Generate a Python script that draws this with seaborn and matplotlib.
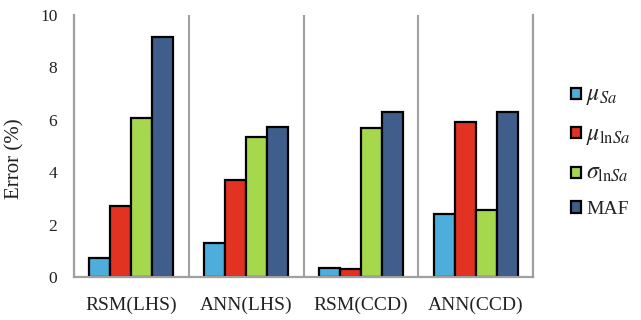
import matplotlib
matplotlib.use("Agg")
import matplotlib.pyplot as plt
import seaborn as sns
import pandas as pd
from matplotlib.patches import Patch

categories = ["RSM(LHS)", "ANN(LHS)", "RSM(CCD)", "ANN(CCD)"]
series_names = [r"$\mu_{Sa}$", r"$\mu_{\mathrm{ln}Sa}$", r"$\sigma_{\mathrm{ln}Sa}$", "MAF"]
mu_sa = [0.73, 1.28, 0.34, 2.40]
mu_lnsa = [2.70, 3.68, 0.31, 5.92]
sigma_lnsa = [6.08, 5.32, 5.67, 2.57]
maf = [9.15, 5.73, 6.30, 6.30]
colors = ["#4DAEDB", "#E13222", "#A6D84E", "#3F5E8C"]
y_ticks = [0, 2, 4, 6, 8, 10]

rows = []
for name, vals in zip(series_names, [mu_sa, mu_lnsa, sigma_lnsa, maf]):
    for c, v in zip(categories, vals):
        rows.append({"cat": c, "series": name, "val": v})
df = pd.DataFrame(rows)

sns.set_style("white")
plt.rcParams["font.family"] = ["Liberation Serif", "DejaVu Serif"]
plt.rcParams["mathtext.fontset"] = "stix"

fig = plt.figure(figsize=(6.41, 3.2), dpi=100)
ax = fig.add_axes([74/641, 1-277/320, (533-74)/641, (277-14.7)/320])

palette = dict(zip(series_names, colors))
sns.barplot(data=df, x="cat", y="val", hue="series", order=categories,
            hue_order=series_names, palette=palette, width=0.73,
            edgecolor="black", linewidth=1.6, saturation=1, ax=ax, legend=False)

gray = "#A0A0A0"
ax.set_xlim(-0.5, len(categories) - 0.5)
ax.set_ylim(0, 10)
ax.set_yticks(y_ticks)
ax.set_yticklabels([str(t) for t in y_ticks], fontsize=12.5, color="#222222")
ax.set_xticks(range(len(categories)))
ax.set_xticklabels(categories, fontsize=14, color="#222222")
ax.tick_params(axis="x", which="major", length=0, pad=14)
ax.set_xticks([i - 0.5 for i in range(len(categories) + 1)], minor=True)
ax.tick_params(axis="x", which="minor", direction="out", length=6, width=1.5, color=gray)
ax.tick_params(axis="y", which="major", direction="out", length=6, width=1.5, color=gray, pad=6)
ax.grid(False)
ax.xaxis.grid(True, which="minor", color=gray, linewidth=1.5)
ax.set_axisbelow(True)
for s in ["left", "bottom", "right"]:
    ax.spines[s].set_visible(True)
    ax.spines[s].set_color(gray)
    ax.spines[s].set_linewidth(1.6)
ax.spines["top"].set_visible(False)
ax.set_xlabel("")
ax.set_ylabel("Error (%)", fontsize=15, color="#222222")
ax.yaxis.set_label_coords(-0.108, 0.45)

handles = [Patch(facecolor=c, edgecolor="black", linewidth=1.6) for c in colors]
leg = fig.legend(handles, series_names, loc="center left", bbox_to_anchor=(563/641, 1-151/320),
                 frameon=False, fontsize=14, handlelength=0.5, handleheight=0.5,
                 handletextpad=0.3, labelspacing=0.85, borderaxespad=0)
for t in leg.get_texts()[:3]:
    t.set_fontsize(17)
for t in leg.get_texts():
    t.set_color("#222222")

fig.savefig("out.png", dpi=100)
